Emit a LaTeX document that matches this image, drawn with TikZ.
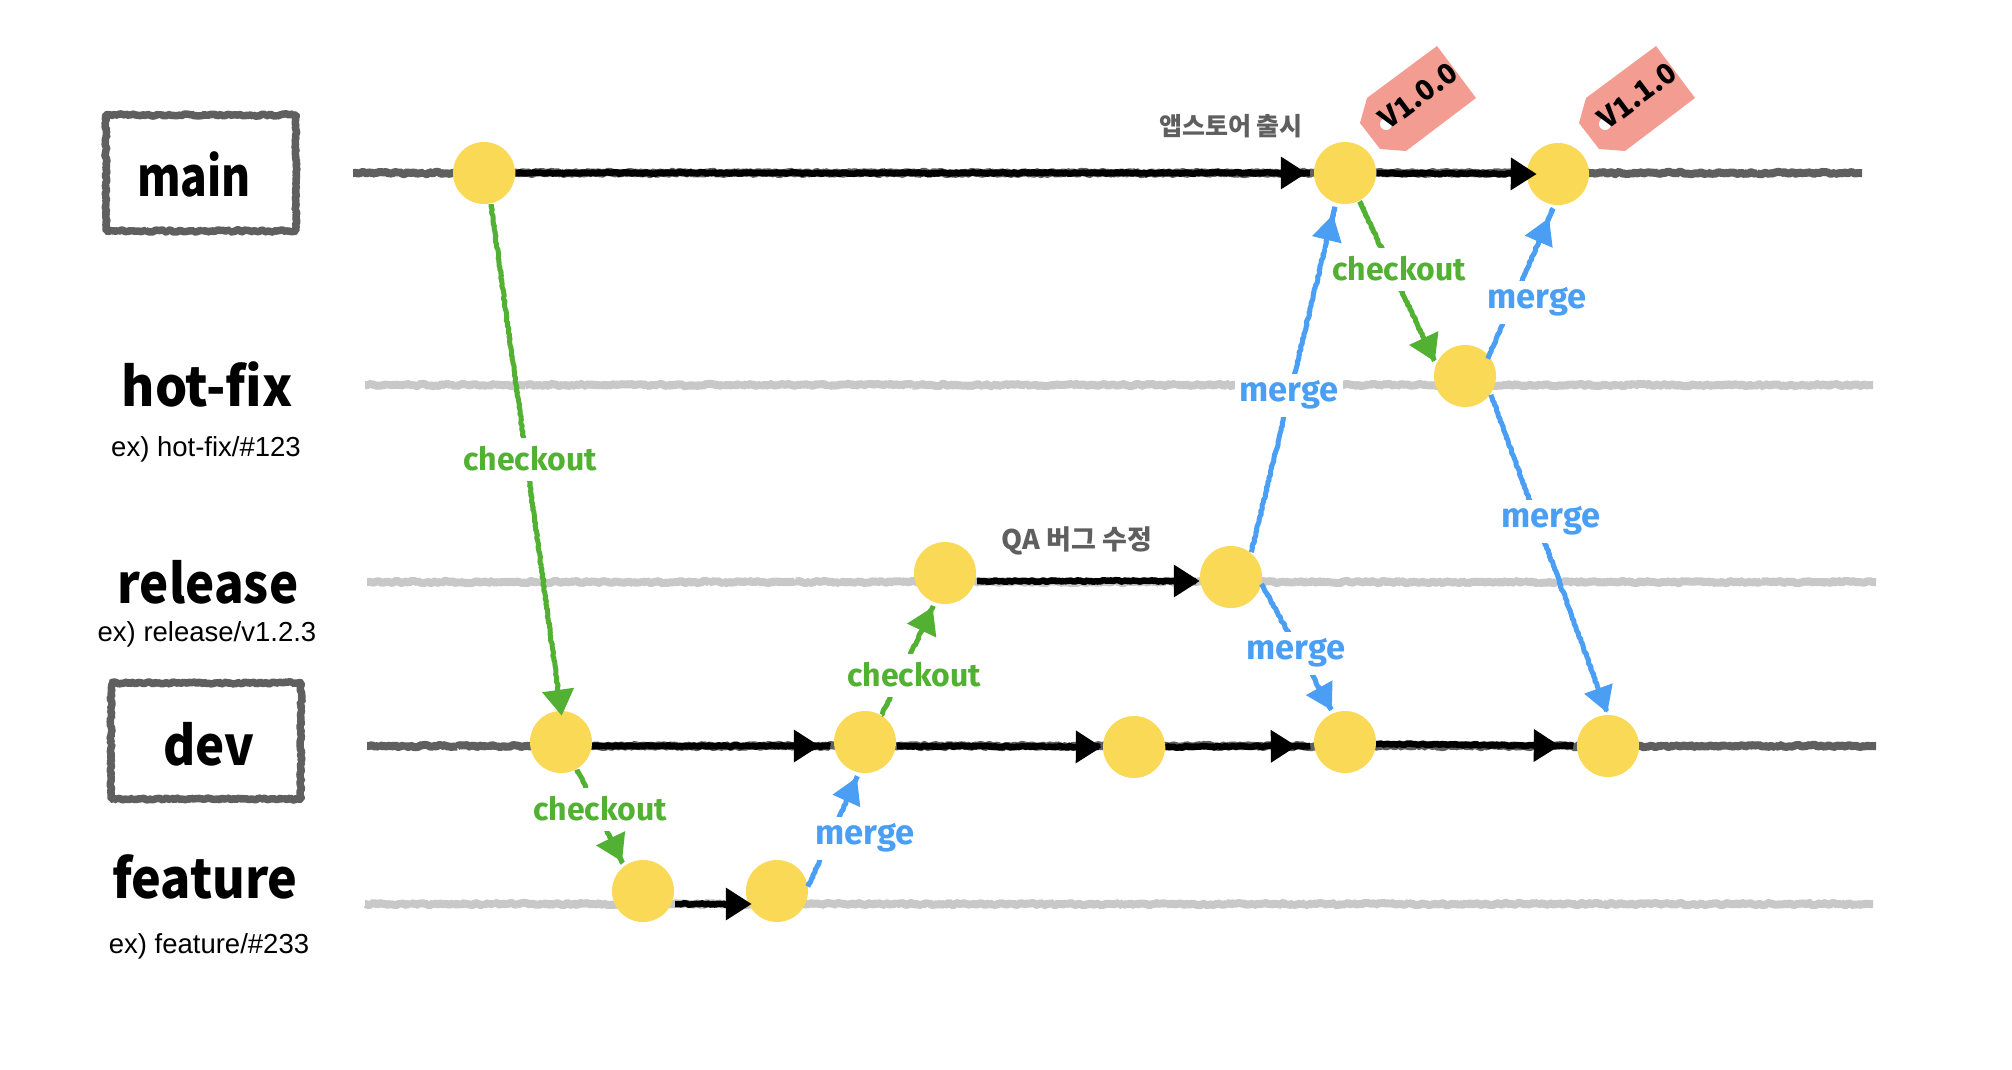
\documentclass[tikz,border=0pt]{standalone}
\usepackage{fontspec}
\usepackage{graphicx}
\setmainfont{Liberation Sans}
\newfontfamily\krf{Noto Sans CJK KR}
\newfontfamily\lblf{Fira Sans}
\usetikzlibrary{decorations.pathmorphing,arrows.meta}
\definecolor{ydot}{HTML}{F9D956}
\definecolor{gl}{HTML}{52B032}
\definecolor{bl}{HTML}{4A9FF5}
\definecolor{dk}{HTML}{5F5F5F}
\definecolor{lt}{HTML}{C8C8C8}
\definecolor{tagc}{HTML}{F39C92}
\tikzset{
  rough/.style={line join=bevel,decorate,decoration={random steps,segment length=2pt,amplitude=#1,post length=4pt,pre length=1pt}},
  rough/.default=1.2pt,
  dot/.style={circle,fill=ydot,inner sep=0pt,minimum size=62pt},
  mainline/.style={draw=dk,line width=8pt,rough},
  sideline/.style={draw=lt,line width=8pt,rough},
  blk/.style={draw=black,line width=6.5pt,rough=0.8pt,-{Triangle[length=26pt,width=31pt]}},
  grn/.style={draw=gl,line width=5pt,rough=0.7pt,-{Triangle[length=26pt,width=31pt]}},
  blu/.style={draw=bl,line width=5pt,rough=0.7pt,-{Triangle[length=26pt,width=29pt]}},
  lbl/.style={fill=white,inner xsep=5pt,inner ysep=0pt,minimum height=43pt},
  glbl/.style={lbl,text=gl,font=\lblf\bfseries\fontsize{32}{32}\selectfont},
  blbl/.style={lbl,text=bl,font=\lblf\bfseries\fontsize{34.5}{34.5}\selectfont},
  ttl/.style={inner sep=0pt,font=\krf\bfseries\fontsize{54}{54}\selectfont},
  sub/.style={inner sep=0pt,font=\fontsize{27.5}{28}\selectfont},
  note/.style={inner sep=0pt,text=dk,font=\krf\bfseries\fontsize{25}{25}\selectfont},
  tagtxt/.style={inner sep=0pt,rotate=37,font=\krf\bfseries\fontsize{28}{28}\selectfont},
  boxn/.style={draw=dk,line width=7.5pt,rough=1.1pt,minimum width=190pt,minimum height=116pt,inner sep=0pt},
}
\begin{document}
\begin{tikzpicture}[x=1pt,y=-1pt]
\pgfmathsetseed{7}
\useasboundingbox (0,0) rectangle (2012,1070);
\fill[white] (0,0) rectangle (2012,1070);
% branch lines
\coordinate (mL) at (353,173); \coordinate (mR) at (1862,173);
\coordinate (hL) at (365,385); \coordinate (hR) at (1873,385);
\coordinate (rL) at (367,582); \coordinate (rR) at (1876,582);
\coordinate (dL) at (367,746); \coordinate (dR) at (1876,746);
\coordinate (fL) at (365,904); \coordinate (fR) at (1873,904);
\draw[mainline] (mL) -- (mR);
\draw[sideline] (hL) -- (hR);
\draw[sideline] (rL) -- (rR);
\draw[mainline] (dL) -- (dR);
\draw[sideline] (fL) -- (fR);
% tags
\begin{scope}[shift={(0,0)}]
\fill[tagc] (1437,46) -- (1476,98) -- (1406,151) -- (1380,149) -- (1360,123) -- (1367,98) -- cycle;
\fill[white] (1386,124) circle (6);
\end{scope}
\begin{scope}[shift={(219,0)}]
\fill[tagc] (1437,46) -- (1476,98) -- (1406,151) -- (1380,149) -- (1360,123) -- (1367,98) -- cycle;
\fill[white] (1386,124) circle (6);
\end{scope}
\node[tagtxt] (t1) at (1418,96) {V1.0.0};
\node[tagtxt] (t2) at (1637,96) {V1.1.0};
% commits
\node[dot] (n1) at (484,173) {};
\node[dot] (n2) at (1345,173) {};
\node[dot] (n3) at (1558,174) {};
\node[dot] (hf) at (1465,376) {};
\node[dot] (r1) at (945,573) {};
\node[dot] (r2) at (1231,577) {};
\node[dot] (d1) at (561,742) {};
\node[dot] (d2) at (865,742) {};
\node[dot] (d3) at (1134,747) {};
\node[dot] (d4) at (1345,742) {};
\node[dot] (d5) at (1608,746) {};
\node[dot] (f1) at (643,891) {};
\node[dot] (f2) at (777,891) {};
% black
\draw[blk,shorten <=5pt,shorten >=7pt] (n1.east) -- (n2.west);
\draw[blk,shorten <=2pt,shorten >=-10pt] (n2.east) -- (n3.west);
\draw[blk,shorten <=5pt,shorten >=-6pt] ([yshift=-13pt]f1.east) -- ([yshift=-13pt]f2.west);
\draw[blk,shorten <=0pt,shorten >=14pt] ([yshift=-4pt]d1.east) -- ([yshift=-4pt]d2.west);
\draw[blk,shorten <=3pt,shorten >=1pt] ([yshift=-4pt]d2.east) -- (d3.west);
\draw[blk,shorten <=10pt,shorten >=17pt] (d3.east) -- ([yshift=-4pt]d4.west);
\draw[blk,shorten <=0pt,shorten >=17pt] ([yshift=-2pt]d4.east) -- (d5.west);
\draw[blk,shorten <=4pt,shorten >=0pt] ([yshift=-8pt]r1.east) -- ([yshift=-4pt]r2.west);
% green
\draw[grn,shorten <=4pt,shorten >=-5pt] (n1.-77) -- (d1.90);
\draw[grn,shorten <=10pt,shorten >=3pt] (n2.-63) -- (hf.158);
\draw[grn,shorten <=5pt,shorten >=5pt] (d1.-60) -- (f1.127);
\draw[grn,shorten <=1pt,shorten >=5pt] (d2.58) -- (r1.-109);
% blue
\draw[blu,shorten <=2pt,shorten >=12pt] (r2.50) -- (n2.-107);
\draw[blu,shorten <=-3pt,shorten >=14pt] (hf.40) -- (n3.-96);
\draw[blu,shorten <=2pt,shorten >=2pt] (hf.-35) -- (d5.90);
\draw[blu,shorten <=0pt,shorten >=3pt] (r2.-13) -- (d4.112);
\draw[blu,shorten <=0pt,shorten >=5pt] (f2.8) -- (d2.-101);
% connector labels
\node[glbl] (c1) at (530,459) {checkout};
\node[glbl] (c2) at (1399,269) {checkout};
\node[glbl] (c3) at (600,809) {checkout};
\node[glbl] (c4) at (914,675) {checkout};
\node[blbl] (m1) at (1289,395) {merge};
\node[blbl] (m2) at (1537,302) {merge};
\node[blbl] (m3) at (1551,521) {merge};
\node[blbl] (m4) at (1296,653) {merge};
\node[blbl] (m5) at (865,838) {merge};
% notes
\node[note] (a1) at (1231,126) {앱스토어 출시};
\node[note,font=\krf\bfseries\fontsize{27}{27}\selectfont] (a2) at (1077,541) {QA 버그 수정};
% branch names
\node[boxn] (bm) at (201,173) {};
\node[boxn] (bd) at (206,741) {};
\node[ttl] (tm) at (194,174) {\scalebox{.82}[1]{main}};
\node[ttl] (td) at (209,744) {\scalebox{.91}[1]{dev}};
\node[ttl] (th) at (207,384) {\scalebox{.94}[1]{hot-fix}};
\node[ttl] (tr) at (208,582) {\scalebox{.91}[1]{release}};
\node[ttl] (tf) at (205,877) {\scalebox{.93}[1]{feature}};
\node[sub] (sh) at (206,449) {ex) hot-fix/\#123};
\node[sub] (sr) at (207,634) {ex) release/v1.2.3};
\node[sub] (sf) at (209,946) {ex) feature/\#233};
\end{tikzpicture}
\end{document}
